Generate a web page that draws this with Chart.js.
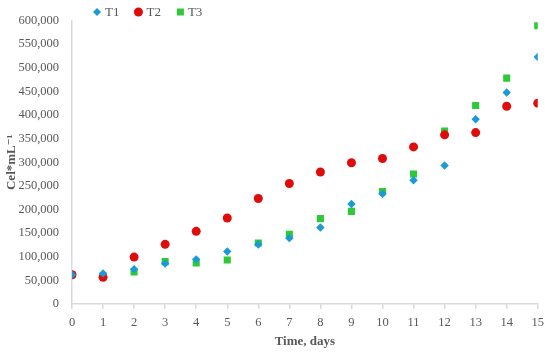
<!DOCTYPE html>
<html>
<head>
<meta charset="utf-8">
<script src="https://cdn.jsdelivr.net/npm/chart.js@4/dist/chart.umd.min.js"></script>
<style>
  html, body { margin: 0; padding: 0; background: #fff; }
  #wrap { width: 550px; height: 353px; position: relative; }
</style>
</head>
<body>
<div id="wrap"><canvas id="growthChart"></canvas></div>
<script>
// days on the x axis
var days = [0, 1, 2, 3, 4, 5, 6, 7, 8, 9, 10, 11, 12, 13, 14, 15];

// cell density readings (Cel*mL-1)
var t1Values = [62000, 64800, 73800, 85500, 94500, 111000, 126000, 139400, 162000, 211700, 233000, 262000, 293000, 391000, 447500, 522800];
var t2Values = [62000, 56500, 99300, 126200, 153800, 182000, 223400, 255000, 279300, 299000, 308000, 332400, 358000, 362700, 418500, 425000];
var t3Values = [62000, 59300, 67600, 89700, 86900, 93100, 129000, 147600, 180700, 196000, 238000, 275000, 366000, 420000, 478000, 589000];

var seriesNames = ["T1", "T2", "T3"];
var yTickStep = 50000;
var yMax = 600000;

var textColor = "#595959";
var axisColor = "#d9d9d9";
var serif = "'Liberation Serif', 'DejaVu Serif', serif";

function toPoints(values){
	return days.map(function(d, i){ return { x : d, y : values[i] }; });
}

// legend sits above the plot, left side
var topLegend = {
	id : "topLegend",
	afterDraw : function(chart){
		var ctx = chart.ctx;
		var x = 93;
		var y = 12;
		ctx.save();
		ctx.font = "13px " + serif;
		ctx.textBaseline = "middle";
		chart.data.datasets.forEach(function(ds){
			ctx.fillStyle = ds.backgroundColor;
			ctx.beginPath();
			if (ds.pointStyle === "circle") {
				ctx.arc(x + 4, y, 4.5, 0, Math.PI * 2);
			} else if (ds.pointStyle === "rectRot") {
				ctx.moveTo(x + 4, y - 4);
				ctx.lineTo(x + 8, y);
				ctx.lineTo(x + 4, y + 4);
				ctx.lineTo(x, y);
				ctx.closePath();
			} else {
				ctx.rect(x + 1, y - 3.5, 7, 7);
			}
			ctx.fill();
			ctx.fillStyle = textColor;
			ctx.fillText(ds.label, x + 12, y + 1);
			x += 12 + ctx.measureText(ds.label).width + 15;
		});
		ctx.restore();
	}
};

var chart = new Chart(document.getElementById("growthChart"), {
	type : "scatter",
	data : {
		datasets : [{
			label : seriesNames[0],
			data : toPoints(t1Values),
			pointStyle : "rectRot",
			pointRadius : 4.2,
			backgroundColor : "#1a9ad6",
			borderColor : "#1a9ad6",
			borderWidth : 0
		}, {
			label : seriesNames[1],
			data : toPoints(t2Values),
			pointStyle : "circle",
			pointRadius : 4.5,
			backgroundColor : "#e00b0b",
			borderColor : "#e00b0b",
			borderWidth : 0
		}, {
			label : seriesNames[2],
			data : toPoints(t3Values),
			pointStyle : "rect",
			pointRadius : 5,
			backgroundColor : "#2dc937",
			borderColor : "#2dc937",
			borderWidth : 0
		}]
	},
	options : {
		responsive : true,
		maintainAspectRatio : false,
		animation : false,
		layout : { padding : { top : 14, right : 12, left : 0, bottom : 0 } },
		plugins : {
			legend : { display : false },
			tooltip : { enabled : false }
		},
		scales : {
			x : {
				type : "linear",
				min : 0,
				max : 15,
				afterFit : function(scale){ scale.height = 49; },
				ticks : {
					stepSize : 1,
					color : textColor,
					font : { family : serif, size : 12.5 },
					padding : 6
				},
				grid : { drawOnChartArea : false, drawTicks : true, tickLength : 5, color : axisColor, lineWidth : 1.5 },
				border : { display : true, color : axisColor, width : 1.5 },
				title : {
					display : true,
					text : "Time, days",
					color : textColor,
					font : { family : serif, size : 13, weight : "bold" },
					padding : { top : 0, bottom : 4 }
				}
			},
			y : {
				min : 0,
				max : yMax,
				afterFit : function(scale){ scale.width = 72; },
				ticks : {
					stepSize : yTickStep,
					color : textColor,
					font : { family : serif, size : 12.5 },
					padding : 13,
					callback : function(v){ return v.toLocaleString("en-US"); }
				},
				grid : { display : false, drawTicks : false },
				border : { display : true, color : axisColor, width : 1.5 },
				title : {
					display : true,
					text : "Cel*mL\u207B\u00B9",
					color : textColor,
					font : { family : serif, size : 13, weight : "bold" },
					padding : 4
				}
			}
		}
	},
	plugins : [topLegend]
});
</script>
</body>
</html>
